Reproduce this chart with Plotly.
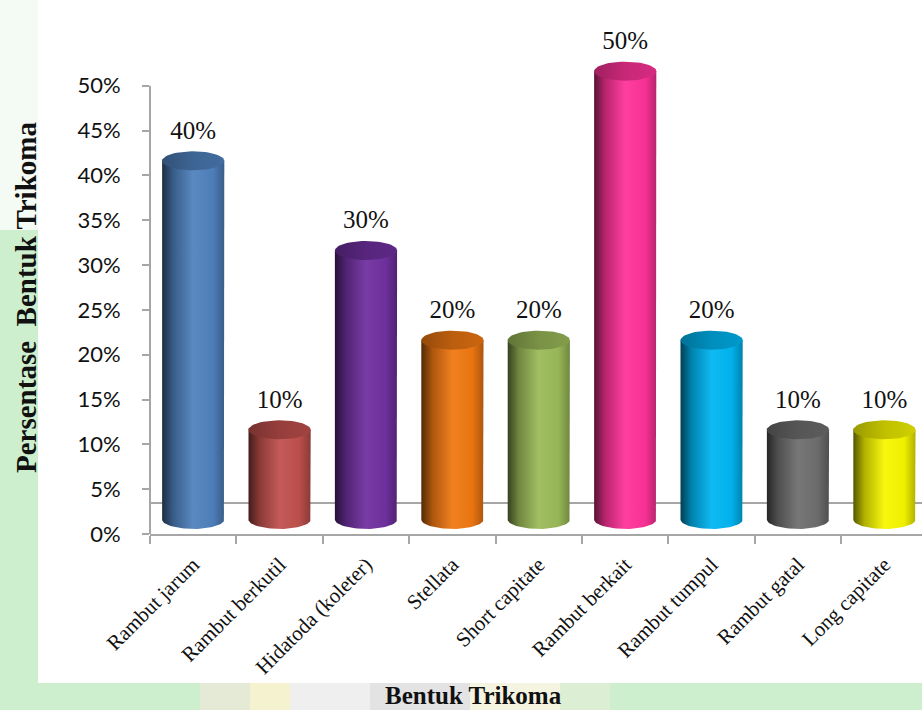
import numpy as np
import plotly.graph_objects as go

# ---- data ----
categories = ["Rambut jarum", "Rambut berkutil", "Hidatoda (koleter)", "Stellata",
              "Short capitate", "Rambut berkait", "Rambut tumpul", "Rambut gatal",
              "Long capitate"]
values = [0.40, 0.10, 0.30, 0.20, 0.20, 0.50, 0.20, 0.10, 0.10]
value_labels = ["40%", "10%", "30%", "20%", "20%", "50%", "20%", "10%", "10%"]
y_ticks = [0, 0.05, 0.10, 0.15, 0.20, 0.25, 0.30, 0.35, 0.40, 0.45, 0.50]
bar_colors = ["#4F81BD", "#C0504D", "#7030A0", "#F07812", "#9BBB59",
              "#FF3399", "#00B6F2", "#6E6E6E", "#F6F600"]

SERIF = "Liberation Serif, Times New Roman, serif"

# ---- styling helpers ----
def shade(hexc, f):
    h = hexc.lstrip("#")
    r, g, b = (int(h[i:i + 2], 16) for i in (0, 2, 4))
    if f <= 1:
        r, g, b = r * f, g * f, b * f
    else:
        k = f - 1
        r, g, b = r + (255 - r) * k, g + (255 - g) * k, b + (255 - b) * k
    return "rgb(%d,%d,%d)" % (round(r), round(g), round(b))

HALF_W = 0.36      # half bar width (category units)
RY = 0.0106        # ellipse semi-height (y units)
BASE = 0.0162      # 3D floor offset
FLOOR = 0.0346

fig = go.Figure()
n = len(categories)
for i, (v, c) in enumerate(zip(values, bar_colors)):
    top = v + BASE
    t = np.linspace(0, -np.pi, 40)
    bx = [i - HALF_W, i - HALF_W, i + HALF_W, i + HALF_W] + list(i + HALF_W * np.cos(t))
    by = [BASE, top, top, BASE] + list(BASE + RY * np.sin(t))
    fig.add_trace(go.Scatter(
        x=bx, y=by, mode="lines", fill="toself", line=dict(width=0),
        fillgradient=dict(type="horizontal", colorscale=[
            [0.0, shade(c, 0.35)], [0.18, shade(c, 0.72)], [0.5, shade(c, 1.06)],
            [0.82, shade(c, 0.97)], [1.0, shade(c, 0.72)]]),
        hoverinfo="skip", showlegend=False))
    t2 = np.linspace(0, 2 * np.pi, 60)
    fig.add_trace(go.Scatter(
        x=list(i + HALF_W * np.cos(t2)), y=list(top + RY * np.sin(t2)),
        mode="lines", fill="toself", line=dict(width=0),
        fillgradient=dict(type="horizontal", colorscale=[
            [0.0, shade(c, 0.62)], [0.5, shade(c, 0.78)], [1.0, shade(c, 0.84)]]),
        hoverinfo="skip", showlegend=False))

# value labels
fig.add_trace(go.Scatter(
    x=list(range(n)), y=[v + BASE + RY + 0.007 for v in values],
    mode="text", text=value_labels, textposition="top center",
    textfont=dict(family=SERIF, size=25, color="#111111"),
    cliponaxis=False, hoverinfo="skip", showlegend=False))

# geometry of plot area (pixels)
L, R, T, B = 150, 922, 14, 534
PW, PH = R - L, B - T
def px(x): return (x - L) / PW
def py(y): return (B - y) / PH

def bg(x0, x1, y0, y1, col):
    return dict(type="rect", xref="paper", yref="paper", x0=px(x0), x1=px(x1),
                y0=py(y1), y1=py(y0), fillcolor=col, line=dict(width=0), layer="below")

shapes = [
    bg(38, 922, 0, 683, "white"),
    bg(0, 38, 0, 230, "#f4faf4"),
    bg(200, 250, 683, 710, "#e4ead6"),
    bg(250, 290, 683, 710, "#f4f2cf"),
    bg(290, 370, 683, 710, "#efefef"),
    bg(370, 470, 683, 710, "#e3e3e3"),
    bg(470, 560, 683, 710, "#f5f4e0"),
    bg(560, 610, 683, 710, "#dcefd4"),
    # floor back edge
    dict(type="line", xref="paper", yref="y", x0=0, x1=1, y0=FLOOR, y1=FLOOR,
         line=dict(color="#a6a6a6", width=2), layer="below"),
    # y axis line
    dict(type="line", xref="paper", yref="y", x0=0, x1=0, y0=0, y1=max(y_ticks),
         line=dict(color="#a6a6a6", width=2), layer="below"),
]

annotations = [
    dict(text="<b>Persentase\u00a0 Bentuk Trikoma</b>", xref="paper", yref="paper",
         x=px(26), y=py(298), textangle=-90, showarrow=False, xanchor="center", yanchor="middle",
         font=dict(family=SERIF, size=29, color="#111111")),
    dict(text="<b>Bentuk Trikoma</b>", xref="paper", yref="paper",
         x=px(473), y=py(695), showarrow=False, xanchor="center", yanchor="middle",
         font=dict(family=SERIF, size=25, color="#111111")),
]

fig.update_layout(
    width=922, height=710,
    margin=dict(l=L, r=922 - R, t=T, b=710 - B, pad=0),
    paper_bgcolor="#cdefcd", plot_bgcolor="rgba(0,0,0,0)",
    shapes=shapes, annotations=annotations, showlegend=False,
    xaxis=dict(range=[-0.5, -0.5 + PW / 86.4], tickmode="array",
               tickvals=list(range(n)), ticktext=categories, tickangle=-45,
               ticks="", showgrid=False, zeroline=False,
               showline=True, linecolor="#a6a6a6", linewidth=2,
               ticklabelstandoff=8,
               tickfont=dict(family=SERIF, size=21, color="#111111"),
               minor=dict(tickmode="array", tickvals=[k - 0.5 for k in range(n + 1)],
                          ticks="outside", ticklen=8, tickwidth=2, tickcolor="#a6a6a6",
                          showgrid=False)),
    yaxis=dict(range=[0, PH / 896.6], tickmode="array", tickvals=y_ticks,
               tickformat=".0%", ticks="outside", ticklen=7, tickwidth=2,
               tickcolor="#a6a6a6", showgrid=False, zeroline=False, showline=False,
               ticklabelstandoff=17,
               tickfont=dict(family="Lato", size=22, color="#111111")),
)

fig.write_html("out.html")
